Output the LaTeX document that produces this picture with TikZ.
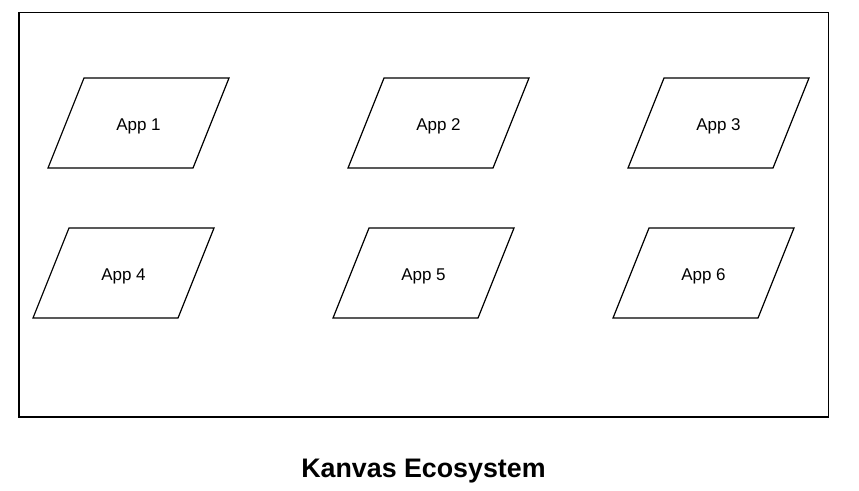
\documentclass[tikz,border=0pt]{standalone}
\usepackage{fontspec}
\setmainfont{Liberation Sans}
\begin{document}
\begin{tikzpicture}[x=1pt,y=-1pt,
  frame/.style={draw=black,line width=1.3pt},
  para/.style={draw=black,line width=1.2pt,line join=miter},
  applabel/.style={font=\fontsize{17}{20}\selectfont,inner sep=0pt,anchor=base},
  titlelabel/.style={font=\fontsize{26.8}{31}\selectfont\bfseries,inner sep=0pt,anchor=base}]
\useasboundingbox (0,0) rectangle (859,490);
\draw[frame] (19,12.5) rectangle (828.5,417);
\foreach \cx/\cy/\n in {138.5/123/1,438.5/123/2,718.5/123/3,123.5/273/4,423.5/273/5,703.5/273/6}{
  \draw[para] (\cx-54.5,\cy-45) -- (\cx+90.5,\cy-45) -- (\cx+54.5,\cy+45) -- (\cx-90.5,\cy+45) -- cycle;
  \node[applabel] (app\n) at (\cx,\cy+7.5) {App \n};
}
\node[titlelabel] (title) at (423.5,477.5) {Kanvas Ecosystem};
\end{tikzpicture}
\end{document}
